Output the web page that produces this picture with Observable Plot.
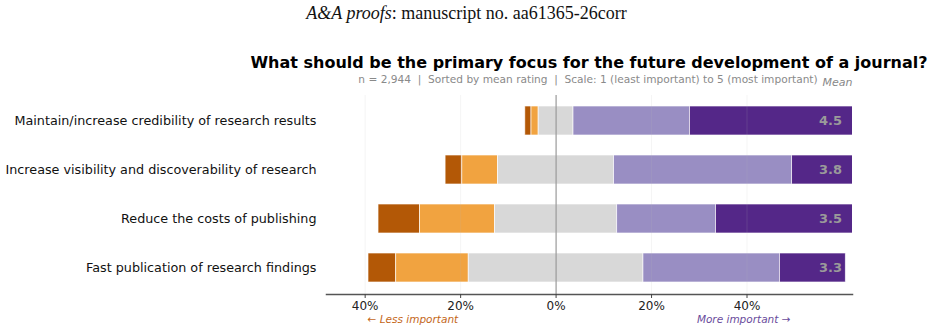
<!DOCTYPE html>
<html>
<head>
<meta charset="utf-8">
<script src="https://cdn.jsdelivr.net/npm/d3@7"></script>
<script src="https://cdn.jsdelivr.net/npm/@observablehq/plot@0.6"></script>
<style>
  body { margin: 0; background: #fff; }
  #wrap { position: relative; width: 933px; height: 335px; overflow: hidden; }
  .hdr { position: absolute; left: 0; width: 933px; top: 3px; text-align: center;
         font-family: "Liberation Serif", "Times New Roman", serif; font-size: 18px; line-height: 20px; color: #111; }
  .title { position: absolute; left: 589px; top: 54px; transform: translateX(-50%); white-space: nowrap;
           font-family: "DejaVu Sans", sans-serif; font-weight: bold; font-size: 16px; line-height: 18px; color: #000; }
  .sub { position: absolute; left: 588px; top: 73px; transform: translateX(-50%); white-space: nowrap;
         font-family: "DejaVu Sans", sans-serif; font-size: 10.6px; line-height: 13px; color: #8a8a8a; }
  #chart { position: absolute; left: 0; top: 70px; }
</style>
</head>
<body>
<div id="wrap">
  <div class="hdr"><i>A&amp;A proofs</i>: manuscript no. aa61365-26corr</div>
  <div class="title">What should be the primary focus for the future development of a journal?</div>
  <div class="sub">n = 2,944&nbsp; |&nbsp; Sorted by mean rating&nbsp; |&nbsp; Scale: 1 (least important) to 5 (most important)</div>
  <div id="chart"></div>
</div>
<script>
// Survey items, sorted by mean rating (highest first)
const questions = [
  "Maintain/increase credibility of research results",
  "Increase visibility and discoverability of research",
  "Reduce the costs of publishing",
  "Fast publication of research findings"
];
// Rating levels 1 (least important) .. 5 (most important)
const levels = ["1", "2", "3", "4", "5"];
const levelColors = ["#b35806", "#f1a340", "#d8d8d8", "#998ec3", "#542788"];

// Share of respondents (%) giving each rating, per item
const pct1 = [1.3, 3.5, 8.7, 5.8];
const pct2 = [1.5, 7.5, 15.7, 15.2];
const pct3 = [7.3, 24.3, 25.6, 36.6];
const pct4 = [24.4, 37.3, 20.7, 28.6];
const pct5 = [65.5, 27.4, 29.3, 13.8];

// Mean rating per item
const means = [4.5, 3.8, 3.5, 3.3];

// Axis ticks (percent, negative = less important side)
const xTicks = [-40, -20, 0, 20, 40];
const gridTicks = [-40, -20, 20, 40];

// Diverging stack: the neutral share is centred on zero
const segments = [];
questions.forEach((q, i) => {
  const p = [pct1[i], pct2[i], pct3[i], pct4[i], pct5[i]];
  let x = -(p[0] + p[1] + p[2] / 2);
  p.forEach((v, j) => {
    segments.push({question: q, level: levels[j], x1: x, x2: x + v});
    x += v;
  });
});
const meanRows = questions.map((q, i) => ({question: q, mean: means[i]}));
const meanX = 57.5;

const chart = Plot.plot({
  width: 933,
  height: 265,
  marginTop: 25,
  marginBottom: 41,
  marginLeft: 326,
  marginRight: 81,
  style: {fontFamily: "DejaVu Sans, sans-serif", background: "transparent", overflow: "visible"},
  x: {domain: [-48.1, 62.1], axis: null},
  y: {domain: questions, paddingInner: 0.4, paddingOuter: 0.2, axis: null},
  color: {domain: levels, range: levelColors},
  marks: [
    Plot.barX(segments, {
      x1: "x1", x2: "x2", y: "question", fill: "level",
      stroke: "white", strokeWidth: 0.8, strokeOpacity: 0.8, clip: true
    }),
    Plot.ruleX(gridTicks, {stroke: "#bbbbbb", strokeOpacity: 0.15, strokeWidth: 1}),
    Plot.ruleX([0], {stroke: "#9a9a9a", strokeWidth: 1.2}),
    Plot.text(meanRows, {
      x: () => meanX, y: "question", text: d => d.mean.toFixed(1),
      fill: "#9a9a9a", fontWeight: "bold", fontSize: 13
    }),
    Plot.text(["Mean"], {
      x: () => meanX, frameAnchor: "top", dx: 7, dy: -17, text: d => d,
      fill: "#888", fontStyle: "italic", fontSize: 11
    }),
    Plot.axisY({tickSize: 0, tickPadding: 10, fontSize: 12.75, label: null, color: "#111"}),
    Plot.frame({anchor: "bottom", stroke: "#555", strokeWidth: 1.5}),
    Plot.axisX({
      ticks: xTicks, tickFormat: d => Math.abs(d) + "%", tickSize: 4, tickPadding: 3,
      fontSize: 12, label: null, stroke: "#444", color: "#222"
    }),
    Plot.text(["\u2190 Less important"], {
      x: () => -39.5, frameAnchor: "bottom", dy: 28, text: d => d, textAnchor: "start",
      fill: "#c4671a", fontStyle: "italic", fontSize: 10.5
    }),
    Plot.text(["More important \u2192"], {
      x: () => 39.3, frameAnchor: "bottom", dy: 28, text: d => d,
      fill: "#6a4c9c", fontStyle: "italic", fontSize: 10.5
    })
  ]
});
document.getElementById("chart").appendChild(chart);
</script>
</body>
</html>
